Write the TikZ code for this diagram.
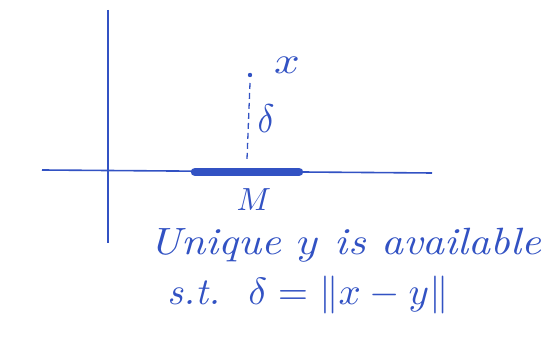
\documentclass[tikz,border=0pt]{standalone}
\usepackage{amsmath}
\usepackage{graphicx}
\definecolor{inkblue}{RGB}{50,82,195}

\begin{document}
\begin{tikzpicture}[x=1pt, y=1pt, inkblue]
    \useasboundingbox (0,0) rectangle (554,339);

    % Axes
    \coordinate (ytop) at (108,329);
    \coordinate (ybot) at (108,96);
    \coordinate (xleft) at (42,169);
    \coordinate (xright) at (432,166);
    \draw[line width=1.6pt] (ytop) -- (ybot);
    \draw[line width=1.6pt] (xleft) -- (xright);

    % The set M on the axis
    \coordinate (mleft) at (195,167);
    \coordinate (mright) at (299,167);
    \draw[line width=8.5pt, line cap=round] (mleft) -- (mright);
    \node (mlabel) at (254,139) {\scalebox{3.2}{$M$}};

    % Point x and distance delta
    \fill (250,264) circle (2.2pt) coordinate (xpt);
    \coordinate (foot) at (247,180);
    \draw[line width=1.3pt, dash pattern=on 6pt off 4pt] (xpt) ++(0,-8) -- (foot);
    \node (xlabel) at (287,274) {\scalebox{4.5}[3.8]{$x$}};
    \node (dlabel) at (266,220) {\scalebox{3.5}[4]{$\delta$}};

    % Text
    \node[anchor=west] (line1) at (146,94) {\scalebox{4.3}[3.8]{\itshape Unique $y$ is available}};
    \node[anchor=west] (line2) at (164,44) {\scalebox{3.9}[3.8]{\itshape s.t.\ \ $\delta = \| x - y \|$}};
\end{tikzpicture}
\end{document}
